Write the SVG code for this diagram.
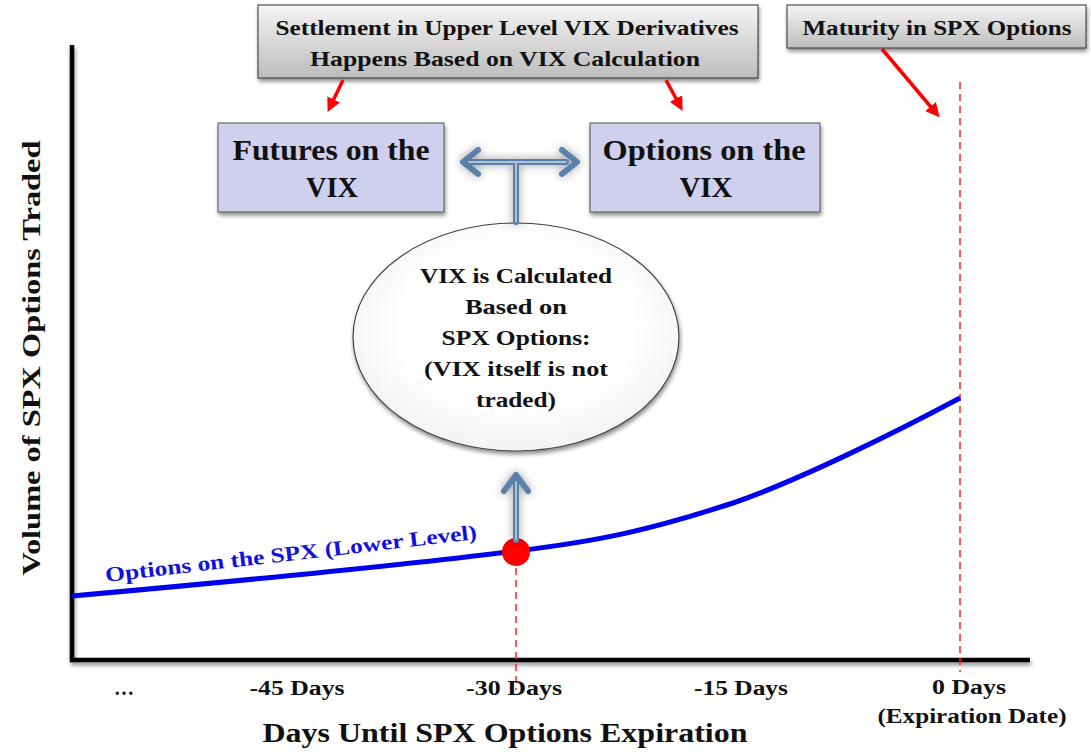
<svg xmlns="http://www.w3.org/2000/svg" width="1091" height="752" viewBox="0 0 1091 752">
<style>
text{font-family:"Liberation Serif","Times New Roman",serif;font-weight:bold;fill:#111;}
.call{font-size:22px;text-anchor:middle;}
.box{font-size:30px;text-anchor:middle;}
.ell{font-size:21px;text-anchor:middle;}
.tick{font-size:20px;text-anchor:middle;}
.red{stroke:#ff0000;stroke-width:3.5;fill:none;}
.dash{stroke:#ff2020;stroke-width:1.5;stroke-dasharray:7,5;fill:none;}
</style>
<defs>
<linearGradient id="gray" x1="0" y1="0" x2="0" y2="1">
<stop offset="0" stop-color="#f4f4f4"/><stop offset="1" stop-color="#bdbdbd"/>
</linearGradient>
<radialGradient id="ellg" cx="0.5" cy="0.45" r="0.6">
<stop offset="0.6" stop-color="#ffffff"/><stop offset="1" stop-color="#f0f0f0"/>
</radialGradient>
<filter id="sh" x="-10%" y="-10%" width="125%" height="135%">
<feGaussianBlur in="SourceAlpha" stdDeviation="2"/><feOffset dx="1" dy="3" result="b"/>
<feComponentTransfer><feFuncA type="linear" slope="0.45"/></feComponentTransfer>
<feMerge><feMergeNode/><feMergeNode in="SourceGraphic"/></feMerge>
</filter>
<filter id="glow" x="-30%" y="-30%" width="160%" height="160%">
<feGaussianBlur in="SourceAlpha" stdDeviation="5"/>
<feComponentTransfer><feFuncA type="linear" slope="0.4"/></feComponentTransfer>
<feMerge><feMergeNode/><feMergeNode in="SourceGraphic"/></feMerge>
</filter>
<marker id="ra" viewBox="0 0 10 10" refX="6" refY="5" markerWidth="4" markerHeight="4" orient="auto" markerUnits="strokeWidth">
<path d="M0,0 L10,5 L0,10 z" fill="#ff0000"/>
</marker>
</defs>

<g id="axes">
<polyline points="72,45 72,660 1030,660" fill="none" stroke="#000" stroke-width="4.5" filter="url(#sh)"/>
</g>

<g id="guides">
<line class="dash" x1="516" y1="556" x2="516" y2="690"/>
<line class="dash" x1="960" y1="82" x2="960" y2="672"/>
</g>

<g id="curve">
<path d="M72,596 C 250,580 420,563 516,551 C 600,541 650,530 733,503 C 800,480 900,430 960,398" fill="none" stroke="#0000ee" stroke-width="5"/>
<text transform="translate(106,582) rotate(-6.6)" style="font-size:21px;fill:#1010e0;" textLength="374" lengthAdjust="spacingAndGlyphs">Options on the SPX (Lower Level)</text>
<circle cx="516" cy="552" r="14" fill="#ff0000"/>
</g>

<g id="settlement-box">
<rect x="258" y="5" width="500" height="73" fill="url(#gray)" stroke="#333" stroke-width="1" filter="url(#sh)"/>
<text class="call" x="507" y="35" textLength="463" lengthAdjust="spacingAndGlyphs">Settlement in Upper Level VIX Derivatives</text>
<text class="call" x="505" y="66" textLength="390" lengthAdjust="spacingAndGlyphs">Happens Based on VIX Calculation</text>
</g>

<g id="maturity-box">
<rect x="787" y="5" width="299" height="43" fill="url(#gray)" stroke="#333" stroke-width="1" filter="url(#sh)"/>
<text class="call" x="937" y="35" textLength="269" lengthAdjust="spacingAndGlyphs">Maturity in SPX Options</text>
</g>

<g id="futures-box">
<rect x="218" y="123" width="226" height="89" fill="#cfd0ee" stroke="#555" stroke-width="1" filter="url(#sh)"/>
<text class="box" x="331" y="160" textLength="197" lengthAdjust="spacingAndGlyphs">Futures on the</text>
<text class="box" x="332" y="197" textLength="52" lengthAdjust="spacingAndGlyphs">VIX</text>
</g>

<g id="options-box">
<rect x="590" y="123" width="230" height="89" fill="#cfd0ee" stroke="#555" stroke-width="1" filter="url(#sh)"/>
<text class="box" x="704" y="160" textLength="203" lengthAdjust="spacingAndGlyphs">Options on the</text>
<text class="box" x="706" y="197" textLength="53" lengthAdjust="spacingAndGlyphs">VIX</text>
</g>

<g id="vix-ellipse">
<ellipse cx="516" cy="337" rx="163" ry="114" fill="url(#ellg)" stroke="#444" stroke-width="1.2" filter="url(#sh)"/>
<text class="ell" x="516" y="283" textLength="192" lengthAdjust="spacingAndGlyphs">VIX is Calculated</text>
<text class="ell" x="516" y="314" textLength="102" lengthAdjust="spacingAndGlyphs">Based on</text>
<text class="ell" x="516" y="345" textLength="149" lengthAdjust="spacingAndGlyphs">SPX Options:</text>
<text class="ell" x="516" y="376" textLength="184" lengthAdjust="spacingAndGlyphs">(VIX itself  is not</text>
<text class="ell" x="516" y="407" textLength="80" lengthAdjust="spacingAndGlyphs">traded)</text>
</g>

<g id="connectors">
<line class="red" x1="343" y1="80" x2="330" y2="107" marker-end="url(#ra)"/>
<line class="red" x1="666" y1="80" x2="680" y2="106" marker-end="url(#ra)"/>
<line class="red" x1="882" y1="49" x2="936" y2="113" marker-end="url(#ra)"/>
<g filter="url(#glow)" fill="none" stroke-linecap="round" stroke-linejoin="round">
<path d="M516,222 V162 M466,162 H566" stroke="#5a7fa8" stroke-width="6"/>
<path d="M516,222 V162 M466,162 H566" stroke="#c8d6e8" stroke-width="1.5"/>
<path d="M478,150 L463,162 L478,174 M562,150 L577,162 L562,174" stroke="#5a7fa8" stroke-width="6"/>
<path d="M516,540 V480" stroke="#5a7fa8" stroke-width="6"/>
<path d="M516,540 V482" stroke="#c8d6e8" stroke-width="1.5"/>
<path d="M504,491 L516,475 L528,491" stroke="#5a7fa8" stroke-width="6"/>
</g>
</g>

<g id="labels">
<text transform="translate(40,358) rotate(-90)" style="font-size:26px;text-anchor:middle;" textLength="435" lengthAdjust="spacingAndGlyphs">Volume of SPX Options Traded</text>
<text class="tick" x="124" y="695">…</text>
<text class="tick" x="297" y="695" textLength="95" lengthAdjust="spacingAndGlyphs">-45 Days</text>
<text class="tick" x="514" y="695" textLength="96" lengthAdjust="spacingAndGlyphs">-30 Days</text>
<text class="tick" x="741" y="695" textLength="94" lengthAdjust="spacingAndGlyphs">-15 Days</text>
<text class="tick" x="969" y="694" textLength="74" lengthAdjust="spacingAndGlyphs">0 Days</text>
<text class="tick" x="972" y="723" textLength="189" lengthAdjust="spacingAndGlyphs">(Expiration Date)</text>
<text x="505" y="742" style="font-size:27px;text-anchor:middle;" textLength="485" lengthAdjust="spacingAndGlyphs">Days Until SPX Options Expiration</text>
</g>
</svg>
